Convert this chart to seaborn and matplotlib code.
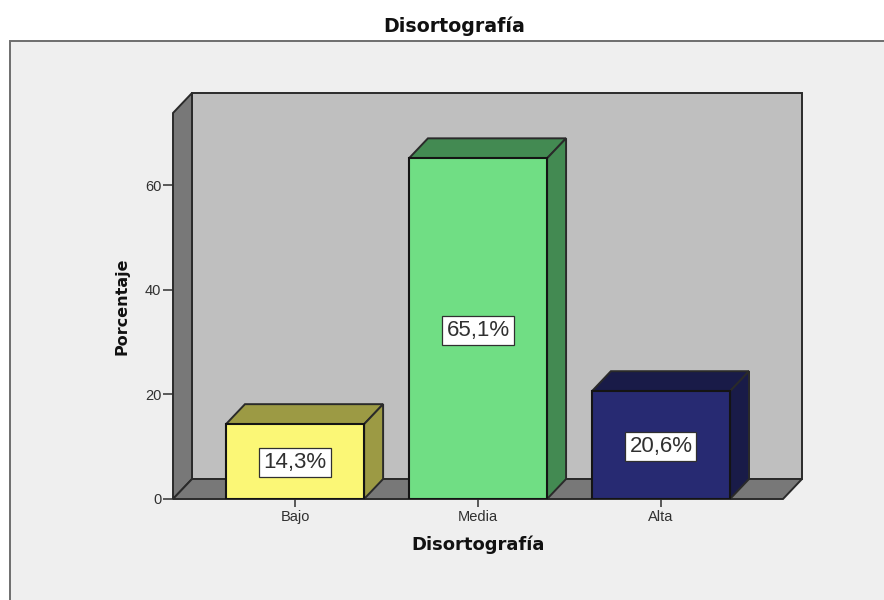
import matplotlib
matplotlib.use("Agg")
import matplotlib.pyplot as plt
from matplotlib.patches import Rectangle
import pandas as pd
import seaborn as sns

categorias = ["Bajo", "Media", "Alta"]
porcentajes = [14.3, 65.1, 20.6]
etiquetas = ["14,3%", "65,1%", "20,6%"]
colores = ["#FBF776", "#70DE84", "#272A72"]
colores_3d = ["#9C9A44", "#438A52", "#191B48"]
y_ticks = [0, 20, 40, 60]

sns.set_style("white")
plt.rcParams["font.family"] = ["Liberation Sans", "DejaVu Sans"]

W, H = 884, 600
fig = plt.figure(figsize=(W / 100, H / 100), dpi=100, facecolor="white")

# panel gris de fondo
fig.add_artist(Rectangle((10 / W, -0.01), 1, 1.01 - 41 / H, transform=fig.transFigure,
                         facecolor="#EFEFEF", edgecolor="#6E6E6E", linewidth=1.4, zorder=-1))

ax = fig.add_axes([173 / W, 1 - 499 / H, 610 / W, 386 / H])
ax.patch.set_alpha(0)

df = pd.DataFrame({"categoria": categorias, "porcentaje": porcentajes})
sns.barplot(data=df, x="categoria", y="porcentaje", hue="categoria", palette=colores,
            saturation=1, width=0.755, dodge=False, legend=False, ax=ax,
            edgecolor="#141414", linewidth=1.5, zorder=4)

x0, x1 = -0.667, 2.667
y0, y1 = 0, 386 / 5.233
ax.set_xlim(x0, x1)
ax.set_ylim(y0, y1)

# profundidad del efecto 3D
dx = 19 / 183
dy = 20 / 5.233
borde = dict(edgecolor="#2A2A2A", linewidth=1.4, clip_on=False)

# paredes
ax.fill([x0 + dx, x1 + dx, x1 + dx, x0 + dx], [dy, dy, y1 + dy, y1 + dy],
        facecolor="#BFBFBF", zorder=1, **borde)
ax.fill([x0, x0 + dx, x0 + dx, x0], [0, dy, y1 + dy, y1],
        facecolor="#787878", zorder=1, **borde)
ax.fill([x0, x1, x1 + dx, x0 + dx], [0, 0, dy, dy],
        facecolor="#787878", zorder=1, **borde)

# caras superior y lateral de cada barra
barras = [c[0] for c in ax.containers]
for barra, oscuro in zip(barras, colores_3d):
    izq, der, alto = barra.get_x(), barra.get_x() + barra.get_width(), barra.get_height()
    ax.fill([izq, der, der + dx, izq + dx], [alto, alto, alto + dy, alto + dy],
            facecolor=oscuro, zorder=3, **borde)
    ax.fill([der, der + dx, der + dx, der], [0, dy, alto + dy, alto],
            facecolor=oscuro, zorder=3, **borde)

for cont, etiqueta in zip(ax.containers, etiquetas):
    textos = ax.bar_label(cont, labels=[etiqueta], label_type="center", fontsize=16, color="#303030",
                          zorder=6, bbox=dict(boxstyle="square,pad=0.18", facecolor="white",
                                              edgecolor="#303030", linewidth=0.9))
    textos[0].set_position((0, -1))

sns.despine(ax=ax, left=True, bottom=True, top=True, right=True)
ax.set_yticks(y_ticks)
ax.tick_params(axis="y", left=True, length=7.5, width=1.1, color="#303030", labelsize=10.5,
               labelcolor="#303030", pad=1)
ax.tick_params(axis="x", bottom=True, length=6, width=1.1, color="#303030", labelsize=10.5,
               labelcolor="#303030", pad=2)

ax.set_xlabel("Disortografía", fontsize=13, fontweight="bold", color="#111111", labelpad=8,
              family="DejaVu Sans")
ax.set_ylabel("Porcentaje", fontsize=11.5, fontweight="bold", color="#111111", labelpad=11,
              family="DejaVu Sans")
fig.text(454 / W, 1 - 26 / H, "Disortografía", ha="center", va="center", fontsize=13.7,
         fontweight="bold", color="#111111", family="DejaVu Sans")

fig.savefig("out.png", dpi=100, facecolor="white")
